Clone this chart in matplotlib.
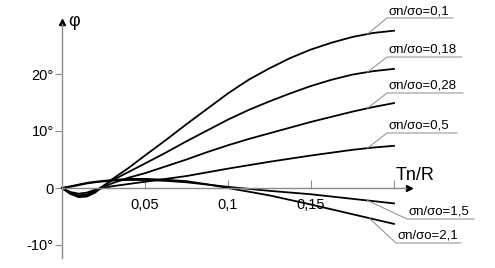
import numpy as np
import matplotlib
matplotlib.use("Agg")
import matplotlib.pyplot as plt

plt.rcParams['font.family'] = ['Liberation Sans', 'DejaVu Sans']

# relative displacement Tn/R
t = [0, 0.005, 0.01, 0.015, 0.02, 0.03, 0.04, 0.05, 0.0625, 0.075, 0.0875, 0.1,
     0.1125, 0.125, 0.1375, 0.15, 0.1625, 0.175, 0.1875, 0.2]

# angle phi (degrees) for each sigma_n/sigma_o
phi_01 = [0, -1.0, -1.6, -1.5, -0.8, 1.5, 3.5, 5.7, 8.4, 11.2, 13.9, 16.6,
          19.0, 21.0, 22.8, 24.3, 25.5, 26.5, 27.2, 27.6]
phi_018 = [0, -1.0, -1.5, -1.3, -0.5, 1.3, 2.8, 4.3, 6.2, 8.2, 10.1, 12.0,
           13.7, 15.2, 16.6, 17.9, 19.0, 19.9, 20.5, 20.9]
phi_028 = [0, -0.9, -1.3, -1.1, -0.4, 0.8, 1.8, 2.6, 3.8, 5.0, 6.3, 7.5,
           8.6, 9.6, 10.6, 11.6, 12.5, 13.4, 14.2, 14.9]
phi_05 = [0, -0.7, -1.0, -0.8, -0.3, 0.3, 0.7, 1.1, 1.6, 2.1, 2.75, 3.4,
          4.0, 4.6, 5.15, 5.7, 6.2, 6.7, 7.1, 7.4]
phi_15 = [0, 0.2, 0.5, 0.8, 1.0, 1.3, 1.4, 1.4, 1.25, 1.0, 0.6, 0.2,
          -0.15, -0.5, -0.8, -1.1, -1.5, -1.9, -2.3, -2.7]
phi_21 = [0, 0.3, 0.6, 0.9, 1.1, 1.4, 1.6, 1.6, 1.45, 1.2, 0.65, 0.0,
          -0.65, -1.3, -2.1, -2.9, -3.75, -4.6, -5.45, -6.3]

labels = ["σn/σo=0,1", "σn/σo=0,18", "σn/σo=0,28", "σn/σo=0,5", "σn/σo=1,5", "σn/σo=2,1"]
series = [phi_01, phi_018, phi_028, phi_05, phi_15, phi_21]

yticks = [-10, 0, 10, 20]
ytick_labels = ["-10°", "0", "10°", "20°"]
xticks = [0.05, 0.1, 0.15, 0.2]
xtick_labels = ["0,05", "0,1", "0,15", ""]

W, H = 495, 268
fig = plt.figure(figsize=(W / 100, H / 100), dpi=100)
ax = fig.add_axes([0, 0, 1, 1])

# pixel layout helpers (origin at pixel 62,188)
def px2t(px):
    return (px - 62) / 1660.0

def py2phi(py):
    return (188 - py) / 5.7

ax.set_xlim(px2t(0), px2t(W))
ax.set_ylim(py2phi(H), py2phi(0))

gray = "#8a8a8a"
for s in ["top", "right"]:
    ax.spines[s].set_visible(False)
ax.spines["left"].set_position(("data", 0))
ax.spines["bottom"].set_position(("data", 0))
ax.spines["left"].set_bounds(py2phi(258), py2phi(24))
ax.spines["bottom"].set_bounds(0, px2t(406))
for s in ["left", "bottom"]:
    ax.spines[s].set_color(gray)
    ax.spines[s].set_linewidth(1.0)

# arrow heads
ax.plot([0], [py2phi(22)], marker="^", color="black", markersize=4, clip_on=False)
ax.plot([px2t(409)], [0], marker=">", color="black", markersize=4, clip_on=False)

ax.set_yticks(yticks)
ax.set_yticklabels(ytick_labels, fontsize=10.5)
ax.set_xticks(xticks)
ax.set_xticklabels(xtick_labels, fontsize=10.5)
ax.tick_params(axis="y", direction="out", length=5, color=gray, pad=1)
ax.tick_params(axis="x", direction="in", length=6, color=gray, pad=7)

ax.text(px2t(68), py2phi(21), "φ", fontsize=13, va="center", ha="left")
ax.text(px2t(396), py2phi(175), "Tn/R", fontsize=13, va="center", ha="left")

for ys in series:
    ax.plot(t, ys, color="black", linewidth=1.3)

# leader lines and underlined labels: (anchor t, text left px, underline py, underline right px)
label_pos = [
    (0.184, 387, 18, 453),
    (0.184, 387, 57, 462),
    (0.184, 387, 93, 463),
    (0.184, 387, 133, 457),
    (0.184, 407, 219, 474),
    (0.185, 396, 243, 461),
]
for ys, lab, (ta, xl, uy, xr) in zip(series, labels, label_pos):
    ya = np.interp(ta, t, ys)
    ax.plot([ta, px2t(xl), px2t(xr)], [ya, py2phi(uy), py2phi(uy)],
            color=gray, linewidth=0.7)
    ax.text(px2t(xl + 1), py2phi(uy - 1), lab, fontsize=9.5, va="bottom", ha="left")

fig.savefig("out.png", dpi=100)
